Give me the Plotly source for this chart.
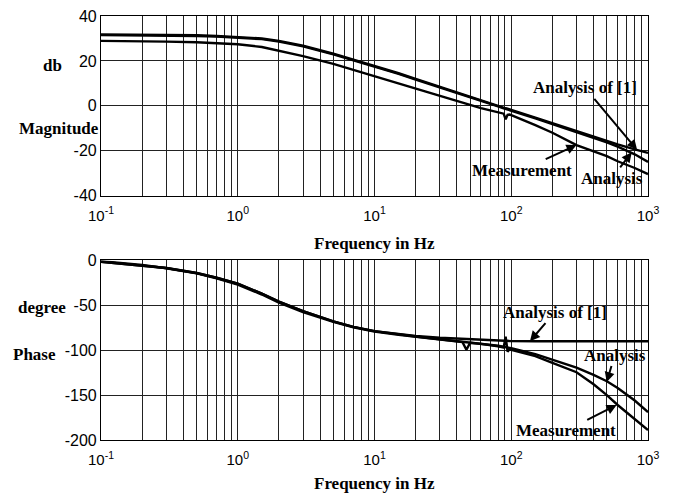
import numpy as np
import plotly.graph_objects as go
from plotly.subplots import make_subplots

# ---------------- data ----------------
freq = [0.1, 0.2, 0.3, 0.5, 0.7, 1, 1.5, 2, 3, 5, 7, 10, 15, 20, 30, 44, 47, 50, 60, 70, 80,
        88, 91, 94, 97, 100, 150, 200, 300, 400, 500, 600, 800, 1000]

# Magnitude (dB)
mag_analysis1 = [31.8, 31.7, 31.6, 31.4, 31.1, 30.7, 30.0, 28.9, 26.8, 23.2, 20.6, 17.8, 14.5, 12.0,
                 8.4, 5.2, 4.6, 4.0, 2.4, 1.1, 0.0, -0.8, -1.1, -1.3, -1.6, -1.8, -5.3, -7.8,
                 -11.3, -13.8, -15.7, -17.2, -19.4, -21.0]
mag_analysis = [31.5, 31.4, 31.3, 31.1, 30.8, 30.4, 29.7, 28.6, 26.5, 22.9, 20.3, 17.5, 14.2, 11.7,
                8.1, 4.9, 4.3, 3.7, 2.1, 0.8, -0.3, -1.1, -1.4, -1.6, -1.9, -2.1, -5.6, -8.1,
                -11.6, -14.2, -16.3, -18.2, -21.6, -25.0]
mag_measurement = [28.9, 28.8, 28.6, 28.3, 27.9, 27.4, 26.2, 24.6, 22.1, 18.7, 16.0, 13.2, 10.0, 7.6,
                   4.2, 1.2, 0.8, 0.4, -1.0, -2.0, -2.9, -3.5, -6.0, -4.0, -3.9, -4.2, -8.6, -12.0,
                   -17.5, -20.2, -22.4, -24.7, -27.7, -30.4]

# Phase (degree)
ph_analysis1 = [-1.5, -5.5, -8.5, -14.0, -19.3, -26.0, -37.0, -46.0, -56.5, -68.0, -74.0, -78.8,
                -82.4, -84.2, -86.2, -87.4, -87.6, -87.8, -88.4, -89.0, -89.5, -89.7, -89.8, -89.8,
                -89.9, -89.9, -90.0, -90.0, -90.0, -90.0, -90.0, -90.0, -90.0, -90.0]
ph_analysis = [-1.5, -5.5, -8.5, -14.0, -19.3, -26.0, -37.0, -46.0, -56.5, -68.0, -74.0, -78.8,
               -82.6, -84.8, -87.8, -90.5, -91.0, -91.4, -92.6, -93.6, -95.0, -96.2, -96.6, -97.0,
               -97.4, -97.8, -104.5, -111.0, -119.5, -127.5, -134.5, -142.0, -156.0, -169.0]
ph_measurement = [-1.0, -5.0, -8.8, -14.5, -20.0, -27.0, -38.0, -47.0, -57.5, -68.5, -74.5, -79.3,
                  -83.0, -85.2, -88.2, -91.0, -99.5, -91.8, -93.0, -94.2, -95.6, -97.0, -85.0, -101.6,
                  -99.0, -99.6, -106.5, -114.0, -124.5, -138.0, -150.0, -161.0, -177.0, -189.0]

dec_vals = [0.1, 1, 10, 100, 1000]
dec_text = ["10<sup>-1</sup>", "10<sup>0</sup>", "10<sup>1</sup>", "10<sup>2</sup>", "10<sup>3</sup>"]
minor_vals = [0.2, 0.3, 0.4, 0.5, 0.6, 0.7, 0.8, 0.9, 2, 3, 4, 5, 6, 7, 8, 9,
              20, 30, 40, 50, 60, 70, 80, 90, 200, 300, 400, 500, 600, 700, 800, 900]
mag_ticks = [-40, -20, 0, 20, 40]
ph_ticks = [-200, -150, -100, -50, 0]

# ---------------- figure ----------------
fig = make_subplots(rows=2, cols=1, vertical_spacing=0.1528)
line = dict(color="black", width=2.4)
for y in (mag_analysis1, mag_analysis, mag_measurement):
    fig.add_trace(go.Scatter(x=freq, y=y, mode="lines", line=line, showlegend=False), row=1, col=1)
for y in (ph_analysis1, ph_analysis, ph_measurement):
    fig.add_trace(go.Scatter(x=freq, y=y, mode="lines", line=line, showlegend=False), row=2, col=1)

gridc = "#222222"
tickfont = dict(family="Liberation Sans, Arial", size=15, color="black")
xcommon = dict(type="log", range=[-1, 3], tickmode="array", tickvals=dec_vals, ticktext=dec_text,
               showgrid=True, gridcolor=gridc, gridwidth=1, showline=True, linecolor="black",
               linewidth=1.2, mirror=True, ticks="outside", ticklen=6, tickcolor="rgba(0,0,0,0)",
               tickfont=tickfont, zeroline=False,
               minor=dict(tickmode="array", tickvals=minor_vals, showgrid=True, gridcolor=gridc,
                          gridwidth=1, ticks=""))
fig.update_xaxes(**xcommon)
fig.update_yaxes(showgrid=True, gridcolor=gridc, gridwidth=1, showline=True, linecolor="black",
                 linewidth=1.2, mirror=True, ticks="", tickfont=dict(family="Liberation Sans, Arial", size=16, color="black"),
                 zeroline=False)
fig.update_yaxes(range=[-40, 40], tickvals=mag_ticks, ticktext=[str(v) for v in mag_ticks], row=1, col=1)
fig.update_yaxes(range=[-200, 0], tickvals=ph_ticks, ticktext=[str(v) for v in ph_ticks], row=2, col=1)
fig.update_layout(yaxis=dict(domain=[0.5764, 1.0]), yaxis2=dict(domain=[0.0, 0.4236]))

serif = dict(family="Liberation Serif, Times New Roman", size=17, color="black")
ann = []
# axis titles
ann.append(dict(text="<b>Frequency in Hz</b>", xref="paper", yref="paper", x=0.5, y=(440 - 240) / 432,
                showarrow=False, font=serif, xanchor="center", yanchor="middle"))
ann.append(dict(text="<b>Frequency in Hz</b>", xref="paper", yref="paper", x=0.5, y=(440 - 484) / 432,
                showarrow=False, font=serif, xanchor="center", yanchor="middle"))
ann.append(dict(text="<b>db</b>", xref="paper", yref="y", x=(52 - 101) / 547, y=18,
                showarrow=False, font=serif, xanchor="center", yanchor="middle"))
ann.append(dict(text="<b>Magnitude</b>", xref="paper", yref="y", x=(101 - 101) / 547, y=-10.3,
                showarrow=False, font=serif, xanchor="right", yanchor="middle"))
ann.append(dict(text="<b>degree</b>", xref="paper", yref="y2", x=(68 - 101) / 547, y=-52.5,
                showarrow=False, font=serif, xanchor="right", yanchor="middle"))
ann.append(dict(text="<b>Phase</b>", xref="paper", yref="y2", x=(58 - 101) / 547, y=-105,
                showarrow=False, font=serif, xanchor="right", yanchor="middle"))

arrow = dict(showarrow=True, arrowhead=2, arrowsize=1, arrowwidth=2, arrowcolor="black", font=serif)
# magnitude callouts
ann.append(dict(text="<b>Analysis of [1]</b>", xref="x", yref="y", x=np.log10(832), y=-19.6,
                ax=-52, ay=-62, **arrow))
ann.append(dict(text="<b>Measurement</b>", xref="x", yref="y", x=np.log10(300), y=-17.5,
                ax=-55, ay=25, **arrow))
ann.append(dict(text="<b>Analysis</b>", xref="x", yref="y", x=np.log10(760), y=-20.7,
                ax=-20, ay=26, **arrow))
# phase callouts
ann.append(dict(text="<b>Analysis of [1]</b>", xref="x2", yref="y2", x=np.log10(137), y=-90,
                ax=25, ay=-29, **arrow))
ann.append(dict(text="<b>Analysis</b>", xref="x2", yref="y2", x=np.log10(499), y=-135.5,
                ax=8, ay=-27, **arrow))
ann.append(dict(text="<b>Measurement</b>", xref="x2", yref="y2", x=np.log10(590), y=-161,
                ax=-51, ay=26, **arrow))

fig.update_layout(width=675, height=497, margin=dict(l=101, r=27, t=8, b=57),
                  paper_bgcolor="white", plot_bgcolor="white", annotations=ann, showlegend=False)
fig.write_html("out.html")
